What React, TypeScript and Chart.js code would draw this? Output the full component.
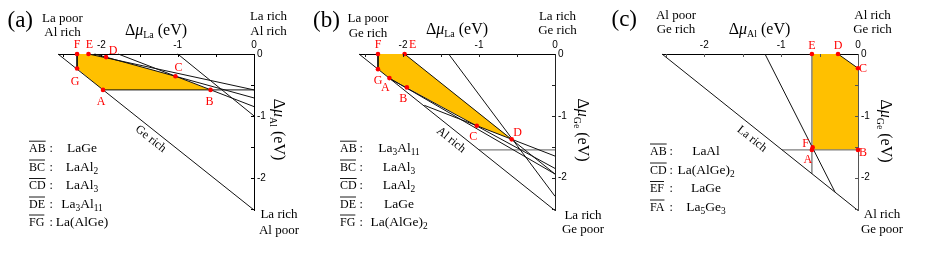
import React, { useEffect, useRef } from 'react';
import { Chart, registerables } from 'chart.js';

Chart.register(...registerables);

const W = 926;
const H = 255;
const SERIF = '"Liberation Serif", "Times New Roman", serif';
const SANS = '"Liberation Sans", Arial, sans-serif';

// ---------------- DATA ----------------
// shared tick values (eV)
const TICK_LABEL_VALUES = [-2, -1, 0];
const TICK_MARK_STEP = 0.5;

// Panel (a): ΔμLa vs ΔμAl
const A_X_MIN = -2.57;
const A_Y_MIN = -2.52;
const A_VERT_NAMES = ['F', 'E', 'D', 'C', 'B', 'A', 'G'];
const A_VERT_X = [-2.32, -2.17, -1.94, -1.03, -0.57, -1.98, -2.32];
const A_VERT_Y = [0, 0, -0.05, -0.36, -0.58, -0.58, -0.235];
// boundary lines: [x1, y1, x2, y2]
const A_LINES = [
  [-2.57, 0, 0, -2.52],
  [-1.98, -0.58, 0, -0.58],
  [-2.32, 0, -2.32, -0.235],
  [-2.17, 0, 0, -0.58],
  [-2.09, 0, 0, -0.71],
  [-1.78, 0, 0, -0.85],
  [-1.0, 0, 0, -1.0],
];
const A_EDGES = ['AB', 'BC', 'CD', 'DE', 'FG'];
const A_PHASES = ['LaGe', 'LaAl_2', 'LaAl_3', 'La_3Al_11', 'La(AlGe)'];

// Panel (b): ΔμLa vs ΔμGe
const B_X_MIN = -2.58;
const B_Y_MIN = -2.53;
const B_VERT_NAMES = ['F', 'E', 'D', 'C', 'B', 'A', 'G'];
const B_VERT_X = [-2.33, -1.98, -0.57, -1.03, -1.95, -2.18, -2.33];
const B_VERT_Y = [0, 0, -1.38, -1.16, -0.54, -0.39, -0.245];
const B_LINES = [
  [-2.58, 0, 0, -2.53],
  [-2.33, 0, -2.33, -0.245],
  [-2.18, -0.39, 0, -1.94],
  [-2.16, -0.41, 0, -1.85],
  [-1.72, -0.83, 0, -1.65],
  [-1.98, 0, 0, -1.94],
  [-1.4, 0, 0, -2.3],
  [-1.0, -1.55, 0, -1.55],
];
const B_EDGES = ['AB', 'BC', 'CD', 'DE', 'FG'];
const B_PHASES = ['La_3Al_11', 'LaAl_3', 'LaAl_2', 'LaGe', 'La(AlGe)_2'];

// Panel (c): ΔμAl vs ΔμGe
const C_X_MIN = -2.55;
const C_Y_MIN = -2.53;
const C_VERT_NAMES = ['E', 'D', 'C', 'B', 'A', 'F'];
const C_VERT_X = [-0.6, -0.26, 0, 0, -0.6, -0.59];
const C_VERT_Y = [0, 0, -0.23, -1.55, -1.55, -1.51];
const C_LINES = [
  [-2.55, 0, 0, -2.53],
  [-1.21, 0, -0.3, -2.23],
  [-0.99, -1.55, 0, -1.55],
  [-0.6, 0, -0.6, -1.935],
  [-0.26, 0, 0, -0.23],
];
const C_EDGES = ['AB', 'CD', 'EF', 'FA'];
const C_PHASES = ['LaAl', 'La(AlGe)_2', 'LaGe', 'La_5Ge_3'];

// ---------------- LAYOUT / STYLE ----------------
const PANELS = [
  {
    xMin: A_X_MIN, yMin: A_Y_MIN, names: A_VERT_NAMES, vx: A_VERT_X, vy: A_VERT_Y, lines: A_LINES,
    lineStyle: ['k', 'k', 'k', 'k', 'k', 'k', 'k'],
    edges: A_EDGES, phases: A_PHASES,
    area: { l: 58, r: 254, t: 54, b: 210 },
    axisColor: '#000',
    letter: '(a)', letterX: 7.5, letterY: 26.5,
    topLeft: ['La poor', 'Al rich'], topLeftX: 62.5, topLeftY: [21.5, 36],
    topRight: ['La rich', 'Al rich'], topRightX: 268.5, topRightY: [20, 35],
    bottom: ['La rich', 'Al poor'], bottomX: 279, bottomY: [218, 234],
    xEl: 'La', xTitleX: 156, xTitleY: 34.5,
    yEl: 'Al', yTitleX: 274, yTitleY: 129.5,
    hyp: 'Ge rich', hypX: 150.7, hypY: 139,
    labelOff: [[0, -9], [1, -9], [7, -6], [3, -8.5], [-1, 12], [-2, 12], [-2, 13]],
    legX: 29, colonX: 49.5, formulaX: 82, legY: [151.7, 170.5, 189, 207.5, 225.5],
  },
  {
    xMin: B_X_MIN, yMin: B_Y_MIN, names: B_VERT_NAMES, vx: B_VERT_X, vy: B_VERT_Y, lines: B_LINES,
    lineStyle: ['k', 'k', 'k', 'k', 'k', 'k', 'k', 'g'],
    edges: B_EDGES, phases: B_PHASES,
    area: { l: 359, r: 555, t: 54, b: 210.5 },
    axisColor: '#222',
    letter: '(b)', letterX: 313, letterY: 26.5,
    topLeft: ['La poor', 'Ge rich'], topLeftX: 368, topLeftY: [21.5, 36.5],
    topRight: ['La rich', 'Ge rich'], topRightX: 557.5, topRightY: [20, 34],
    bottom: ['La rich', 'Ge poor'], bottomX: 583, bottomY: [218.5, 233],
    xEl: 'La', xTitleX: 457, xTitleY: 33.5,
    yEl: 'Ge', yTitleX: 578, yTitleY: 130,
    hyp: 'Al rich', hypX: 451, hypY: 140,
    labelOff: [[0, -9], [8, -9], [6, -7], [-3.5, 11], [-3.5, 11.5], [-4, 10], [0, 12]],
    legX: 340, colonX: 359.5, formulaX: 399, legY: [151.7, 170.5, 189, 207.5, 225.5],
  },
  {
    xMin: C_X_MIN, yMin: C_Y_MIN, names: C_VERT_NAMES, vx: C_VERT_X, vy: C_VERT_Y, lines: C_LINES,
    lineStyle: ['k', 'k', 'g', 'g', 'k'],
    edges: C_EDGES, phases: C_PHASES,
    area: { l: 662, r: 858, t: 54, b: 210.5 },
    axisColor: '#555',
    letter: '(c)', letterX: 611.5, letterY: 25.5,
    topLeft: ['Al poor', 'Ge rich'], topLeftX: 676, topLeftY: [18.5, 33],
    topRight: ['Al rich', 'Ge rich'], topRightX: 872.5, topRightY: [18.5, 33],
    bottom: ['Al rich', 'Ge poor'], bottomX: 882, bottomY: [217.5, 232.5],
    xEl: 'Al', xTitleX: 759.5, xTitleY: 33.5,
    yEl: 'Ge', yTitleX: 881, yTitleY: 131,
    hyp: 'La rich', hypX: 752, hypY: 139,
    labelOff: [[0, -8], [0, -8], [5, 1], [5, 2.5], [-4, 10], [-7, -4]],
    legX: 650, colonX: 669.5, formulaX: 706, legY: [154.5, 173.5, 192, 210.5],
  },
];

type Seg = { t: string; sub?: boolean; it?: boolean };

function parseFormula(s: string): Seg[] {
  const out: Seg[] = [];
  const re = /_(\d+)|([^_]+)/g;
  let m: RegExpExecArray | null;
  while ((m = re.exec(s))) {
    if (m[1]) out.push({ t: m[1], sub: true });
    else out.push({ t: m[2] });
  }
  return out;
}

function drawRich(ctx: CanvasRenderingContext2D, segs: Seg[], x: number, y: number, size: number, family: string, align: string, subScale = 0.68) {
  const fontFor = (s: Seg) => `${s.it ? 'italic ' : ''}${s.sub ? size * subScale : size}px ${family}`;
  let w = 0;
  for (const s of segs) {
    ctx.font = fontFor(s);
    w += ctx.measureText(s.t).width;
  }
  let cx = align === 'left' ? x : align === 'center' ? x - w / 2 : x - w;
  ctx.textAlign = 'left';
  ctx.textBaseline = 'alphabetic';
  for (const s of segs) {
    ctx.font = fontFor(s);
    ctx.fillText(s.t, cx, s.sub ? y + size * 0.24 : y);
    cx += ctx.measureText(s.t).width;
  }
  return w;
}

function drawPanelText(chart: any, p: any) {
  const ctx: CanvasRenderingContext2D = chart.ctx;
  const xs = chart.scales.x;
  const ys = chart.scales.y;
  const top = chart.chartArea.top;
  const right = chart.chartArea.right;
  const bottom = chart.chartArea.bottom;
  const left = chart.chartArea.left;
  ctx.save();
  ctx.fillStyle = '#000';
  ctx.strokeStyle = p.axisColor;
  ctx.lineWidth = 1;

  // inward tick marks
  ctx.beginPath();
  for (let v = Math.ceil(p.xMin / TICK_MARK_STEP) * TICK_MARK_STEP; v < -1e-6; v += TICK_MARK_STEP) {
    const px = Math.round(xs.getPixelForValue(v)) + 0.5;
    ctx.moveTo(px, top);
    ctx.lineTo(px, top + 3);
  }
  for (let v = Math.ceil(p.yMin / TICK_MARK_STEP) * TICK_MARK_STEP; v < -1e-6; v += TICK_MARK_STEP) {
    const py = Math.round(ys.getPixelForValue(v)) + 0.5;
    ctx.moveTo(right, py);
    ctx.lineTo(right - 3, py);
  }
  ctx.stroke();

  // tick labels
  ctx.font = `10px ${SANS}`;
  ctx.textAlign = 'center';
  ctx.textBaseline = 'alphabetic';
  for (const v of TICK_LABEL_VALUES) {
    ctx.fillText(String(v), xs.getPixelForValue(v), top - 6.5);
  }
  ctx.textAlign = 'left';
  ctx.textBaseline = 'middle';
  for (const v of TICK_LABEL_VALUES) {
    ctx.fillText(String(v), right + 3, ys.getPixelForValue(v));
  }

  // panel letter
  ctx.textBaseline = 'alphabetic';
  ctx.font = `23px ${SERIF}`;
  ctx.textAlign = 'left';
  ctx.fillText(p.letter, p.letterX, p.letterY);

  // corner labels
  ctx.font = `13px ${SERIF}`;
  ctx.textAlign = 'center';
  p.topLeft.forEach((t: string, i: number) => ctx.fillText(t, p.topLeftX, p.topLeftY[i]));
  p.topRight.forEach((t: string, i: number) => ctx.fillText(t, p.topRightX, p.topRightY[i]));
  p.bottom.forEach((t: string, i: number) => ctx.fillText(t, p.bottomX, p.bottomY[i]));

  // axis titles
  const title = (el: string): Seg[] => [{ t: 'Δ' }, { t: 'μ', it: true }, { t: el, sub: true }, { t: ' (eV)' }];
  drawRich(ctx, title(p.xEl), p.xTitleX, p.xTitleY, 16, SERIF, 'center', 0.62);
  ctx.save();
  ctx.translate(p.yTitleX, p.yTitleY);
  ctx.rotate(Math.PI / 2);
  drawRich(ctx, title(p.yEl), 0, 0, 16, SERIF, 'center', 0.62);
  ctx.restore();

  // hypotenuse label
  const ang = Math.atan2(bottom - top, right - left);
  ctx.save();
  ctx.translate(p.hypX, p.hypY);
  ctx.rotate(ang);
  ctx.font = `12px ${SERIF}`;
  ctx.textAlign = 'center';
  ctx.textBaseline = 'middle';
  ctx.fillText(p.hyp, 0, 0);
  ctx.restore();

  // vertex labels
  ctx.fillStyle = '#ff0000';
  ctx.font = `12px ${SERIF}`;
  ctx.textAlign = 'center';
  ctx.textBaseline = 'middle';
  p.names.forEach((n: string, i: number) => {
    const px = xs.getPixelForValue(p.vx[i]) + p.labelOff[i][0];
    const py = ys.getPixelForValue(p.vy[i]) + p.labelOff[i][1];
    ctx.fillText(n, px, py);
  });

  // legend list
  ctx.fillStyle = '#000';
  ctx.strokeStyle = '#000';
  p.edges.forEach((e: string, i: number) => {
    const y = p.legY[i];
    ctx.font = `12px ${SERIF}`;
    ctx.textAlign = 'left';
    ctx.textBaseline = 'alphabetic';
    ctx.fillText(e, p.legX, y);
    const w = ctx.measureText(e).width;
    ctx.lineWidth = 0.9;
    ctx.beginPath();
    ctx.moveTo(p.legX, y - 10.5);
    ctx.lineTo(p.legX + w, y - 10.5);
    ctx.stroke();
    ctx.fillText(':', p.colonX, y);
    drawRich(ctx, parseFormula(p.phases[i]), p.formulaX, y, 13.5, SERIF, 'center', 0.7);
  });
  ctx.restore();
}

function buildConfig(p: any) {
  const datasets: any[] = [];
  const verts = p.vx.map((x: number, i: number) => ({ x, y: p.vy[i] }));
  datasets.push({
    data: [...verts, verts[0]],
    fill: 'shape',
    backgroundColor: '#FFC000',
    borderColor: 'rgba(0,0,0,0)',
    borderWidth: 1,
    pointRadius: 0,
    order: 3,
    clip: false,
  });
  p.lines.forEach((l: number[], i: number) => {
    const gray = p.lineStyle[i] === 'g';
    datasets.push({
      data: [{ x: l[0], y: l[1] }, { x: l[2], y: l[3] }],
      borderColor: gray ? '#7f7f7f' : '#111',
      borderWidth: gray ? 1.4 : 1,
      pointRadius: 0,
      fill: false,
      order: 2,
      clip: false,
    });
  });
  datasets.push({
    data: verts,
    showLine: false,
    pointRadius: 2.3,
    pointBackgroundColor: '#ff0000',
    pointBorderColor: '#ff0000',
    pointBorderWidth: 0,
    borderColor: '#ff0000',
    order: 1,
    clip: false,
  });
  const a = p.area;
  return {
    type: 'line',
    data: { datasets },
    options: {
      responsive: false,
      animation: false,
      events: [],
      layout: { padding: { left: a.l, top: a.t, right: W - a.r, bottom: H - a.b } },
      plugins: { legend: { display: false }, tooltip: { enabled: false } },
      scales: {
        x: {
          type: 'linear', position: 'top', min: p.xMin, max: 0,
          grid: { display: false, drawTicks: false },
          border: { display: true, color: '#000', width: 1 },
          ticks: { display: false },
          afterFit: (s: any) => { s.height = 0; },
        },
        y: {
          type: 'linear', position: 'right', min: p.yMin, max: 0,
          grid: { display: false, drawTicks: false },
          border: { display: true, color: p.axisColor, width: 1 },
          ticks: { display: false },
          afterFit: (s: any) => { s.width = 0; },
        },
      },
    },
    plugins: [{ id: 'panelText', afterDraw: (chart: any) => drawPanelText(chart, p) }],
  };
}

function Panel({ spec }: { spec: any }) {
  const ref = useRef<HTMLCanvasElement | null>(null);
  useEffect(() => {
    if (!ref.current) return;
    const chart = new Chart(ref.current, buildConfig(spec) as any);
    return () => chart.destroy();
  }, [spec]);
  return (
    <canvas
      ref={ref}
      width={W}
      height={H}
      style={{ position: 'absolute', left: 0, top: 0, width: W, height: H, display: 'block' }}
    />
  );
}

export default function App() {
  return (
    <div style={{ position: 'absolute', left: 0, top: 0, width: W, height: H, background: '#fff' }}>
      {PANELS.map((p, i) => (
        <Panel key={i} spec={p} />
      ))}
    </div>
  );
}
